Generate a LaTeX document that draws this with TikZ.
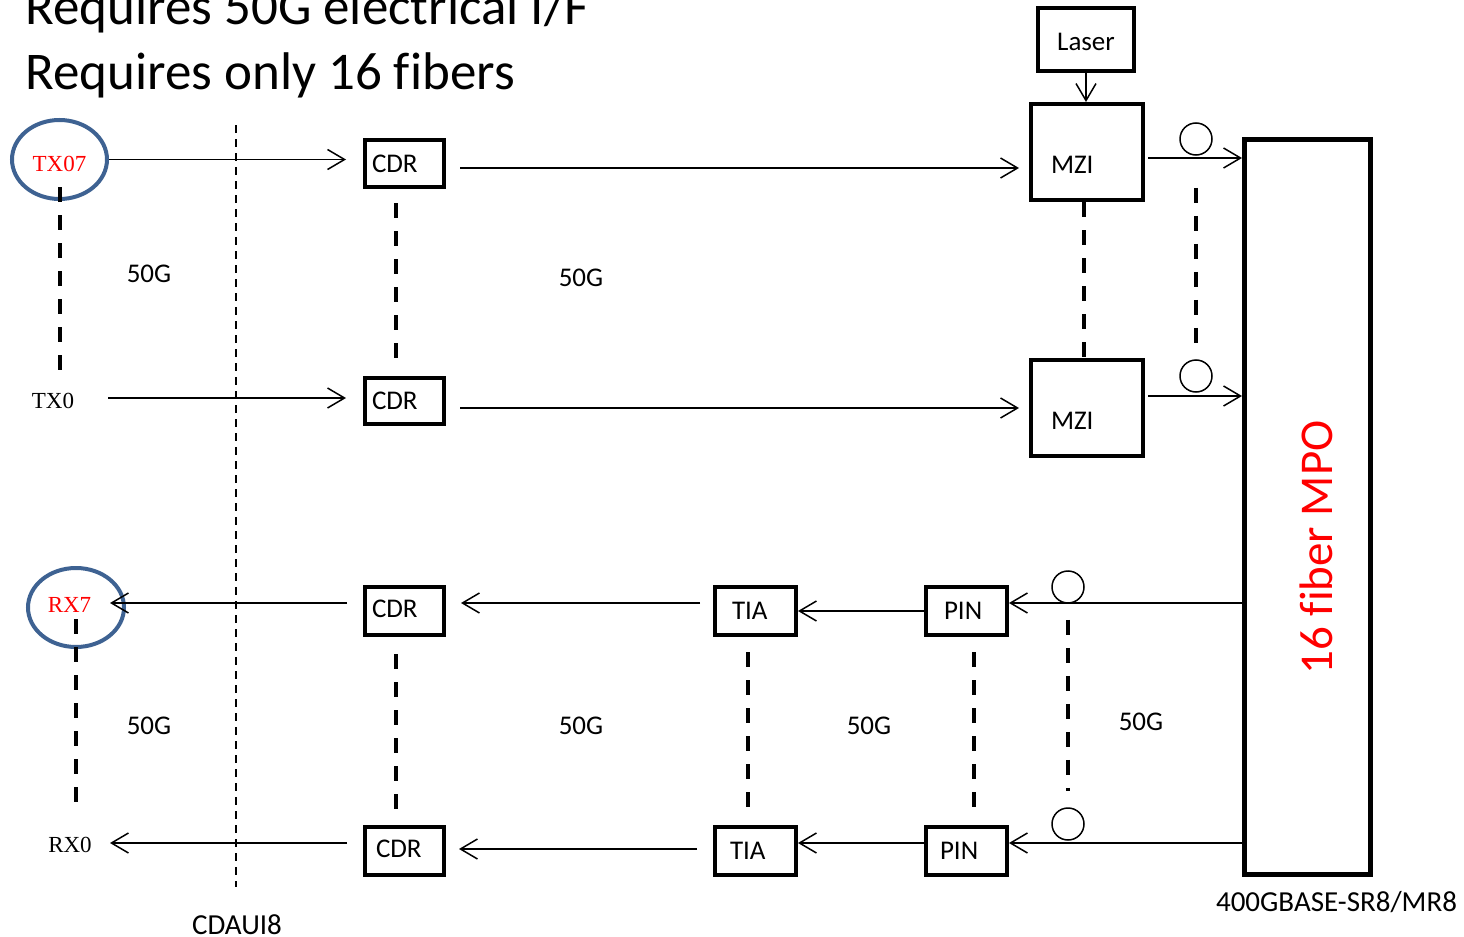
\documentclass[tikz,border=0pt]{standalone}
\usepackage{fontspec}
\setmainfont{Carlito}[Ligatures=CommonOff]
\newfontfamily\tmsfont{Liberation Serif}
\usetikzlibrary{arrows.meta,shapes.geometric,calc}
\definecolor{ringblue}{HTML}{3E6292}
\begin{document}
\begin{tikzpicture}[x=0.5pt,y=-0.5pt,
  lbl/.style={inner sep=0pt, font=\fontsize{13.5}{16}\selectfont},
  caplbl/.style={inner sep=0pt, font=\fontsize{14.5}{17}\selectfont},
  tms/.style={inner sep=0pt, font=\tmsfont\fontsize{11.5}{14}\selectfont},
  blk/.style={draw, line width=2pt, inner ysep=0pt, align=left, font=\fontsize{13.5}{16}\selectfont, text height=8.7pt, text depth=0pt},
  port/.style={ellipse, draw=ringblue, line width=2pt, inner sep=0pt, text=red, font=\tmsfont\fontsize{11.5}{14}\selectfont, text depth=0pt},
  ring/.style={circle, draw, line width=0.75pt, minimum size=16pt, inner sep=0pt},
  arr/.style={line width=0.75pt, -{Straight Barb[length=8.5pt,width=10pt,line width=0.75pt]}},
  fatdash/.style={line width=2pt, dash pattern=on 7.5pt off 6.5pt},
  thindash/.style={line width=1pt, dash pattern=on 4pt off 3pt}
]
\useasboundingbox (0,0) rectangle (1464,937);

% titles
\node[anchor=base west, inner sep=0pt, font=\fontsize{26.5}{30}\selectfont] (title1) at (25,25) {Requires 50G electrical I/F};
\node[anchor=base west, inner sep=0pt, font=\fontsize{26.5}{30}\selectfont] (title2) at (25,90) {Requires only 16 fibers};

% ports
\node[port, minimum width=47.5pt, minimum height=39.5pt, text height=12.1pt] (tx07) at (59.5,159.5) {TX07};
\node[tms] (tx0) at (53,401) {TX0};
\node[port, minimum width=48pt, minimum height=39.5pt, text height=7.6pt, text depth=3pt] (rx7) at (76,607.5) {RX7\hspace*{6.5pt}};
\node[tms] (rx0) at (70,844.5) {RX0};

% boxes
\node[blk, minimum height=23.5pt, inner xsep=3.5pt, text width=32.5pt] (cdrT1) at (404.5,163.5) {CDR};
\node[blk, minimum height=23pt, inner xsep=3.5pt, text width=32.5pt] (cdrT0) at (404.5,401) {CDR};
\node[blk, minimum height=31.5pt, inner xsep=0pt, text width=48pt, align=center, text height=10.7pt] (laser) at (1086,39.5) {Laser};
\node[blk, minimum height=48pt, inner xsep=10pt, text width=36pt, text height=21.7pt] (mzi1) at (1087,152) {MZI};
\node[blk, minimum height=48pt, inner xsep=10pt, text width=36pt, text height=21.7pt] (mzi0) at (1087,408) {MZI};
\node[blk, minimum height=24pt, inner xsep=3.5pt, text width=32.5pt, text depth=2.5pt] (cdrR1) at (404.5,611) {CDR};
\node[blk, minimum height=24pt, inner xsep=5.5pt, text width=28.5pt, text depth=2.5pt] (cdrR0) at (404.5,851) {CDR};
\node[blk, minimum height=24pt, inner xsep=8.5pt, text width=23.5pt] (tia1) at (755.5,611) {TIA};
\node[blk, minimum height=24pt, inner xsep=7.5pt, text width=25.5pt] (tia0) at (755.5,851) {TIA};
\node[blk, minimum height=24pt, inner xsep=9pt, text width=22.5pt] (pin1) at (966.5,611) {PIN};
\node[blk, minimum height=24pt, inner xsep=7pt, text width=26.5pt] (pin0) at (966.5,851) {PIN};

% MPO
\node[draw, line width=2.5pt, minimum width=63pt, minimum height=367.5pt, inner sep=0pt] (mpo) at (1307.5,507) {};
\node[rotate=90, inner sep=0pt, text=red, font=\fontsize{23.5}{28}\selectfont] (mpotxt) at (1316,547.5) {16 fiber MPO};

% fibre rings
\node[ring] (t1) at (1196,139) {};
\node[ring] (t0) at (1196,376) {};
\node[ring] (q1) at (1068,587) {};
\node[ring] (q0) at (1068,824) {};

% labels
\node[lbl] (g1) at (149,274) {50G};
\node[lbl] (g2) at (581,278) {50G};
\node[lbl] (g3) at (149,726) {50G};
\node[lbl] (g4) at (581,726) {50G};
\node[lbl] (g5) at (869,726) {50G};
\node[lbl] (g6) at (1141,722) {50G};
\node[caplbl] (cdaui) at (237,925) {CDAUI8};
\node[caplbl] (sr8) at (1336.5,902.5) {400GBASE-SR8/MR8};

% CDAUI8 boundary
\coordinate (bt) at (236,125);
\coordinate (bb) at (236,887);
\draw[thindash] (bt) -- (bb);

% transmit connectors
\draw[arr] (tx07.east) -- ($(tx07.east -| cdrT1.west)+(-17,0)$);
\draw[arr] ($(tx0.center)+(55,-3)$) -- ($(cdrT0.west)+(-17,-3)$);
\draw[arr] ($(cdrT1.east)+(14,4.5)$) -- ($(mzi1.west)+(-10,16)$);
\draw[arr] ($(cdrT0.east)+(14,7)$) -- ($(mzi0.west)+(-10,0)$);
\draw[arr] (laser.south) -- (laser.south |- mzi1.north);
\coordinate (m1o) at ($(mzi1.east)+(3,6)$);
\coordinate (m0o) at ($(mzi0.east)+(3,-12)$);
\draw[arr] (m1o) -- (m1o -| mpo.west);
\draw[arr] (m0o) -- (m0o -| mpo.west);

% receive connectors
\coordinate (p1i) at ($(pin1.east)+(0,-8)$);
\coordinate (p0i) at ($(pin0.east)+(0,-8)$);
\draw[arr] (p1i -| mpo.west) -- (p1i);
\draw[arr] (p0i -| mpo.west) -- (p0i);
\draw[arr] (pin1.west) -- (tia1.east);
\draw[arr] ($(pin0.west)+(0,-8)$) -- ($(tia0.east)+(0,-8)$);
\draw[arr] ($(tia1.west)+(-13,-8)$) -- ($(cdrR1.east)+(15,-8)$);
\draw[arr] ($(tia0.west)+(-16,-2)$) -- ($(cdrR0.east)+(13,-2)$);
\draw[arr] ($(cdrR1.west)+(-16,-8)$) -- ($(rx7.center)+(34,-4.5)$);
\draw[arr] ($(cdrR0.west)+(-16,-8)$) -- ($(rx0.center)+(40,-1.5)$);

% lane ellipsis (dashed)
\draw[fatdash] ($(tx07.center)+(0.5,27.5)$) -- ($(tx0.center)+(7,-30)$);
\draw[fatdash] ($(rx7.center)+(0,11.5)$) -- ($(rx0.center)+(6,-41.5)$);
\draw[fatdash] ($(cdrT1.south)+(-8.5,14)$) -- ($(cdrT0.north)+(-8.5,-18)$);
\draw[fatdash] ($(mzi1.south)+(-3,0)$) -- ($(mzi0.north)+(-3,0)$);
\draw[fatdash] ($(t1.south)+(0,32)$) -- ($(t0.north)+(0,-16)$);
\draw[fatdash] ($(cdrR1.south)+(-8.5,17)$) -- ($(cdrR0.north)+(-8.5,-16)$);
\draw[fatdash] ($(tia1.south)+(-7.5,15)$) -- ($(tia0.north)+(-7.5,-18)$);
\draw[fatdash] ($(pin1.south)+(7.5,15)$) -- ($(pin0.north)+(7.5,-18)$);
\draw[fatdash] ($(q1.south)+(0,16)$) -- ($(q0.north)+(0,-16)$);
\end{tikzpicture}
\end{document}
